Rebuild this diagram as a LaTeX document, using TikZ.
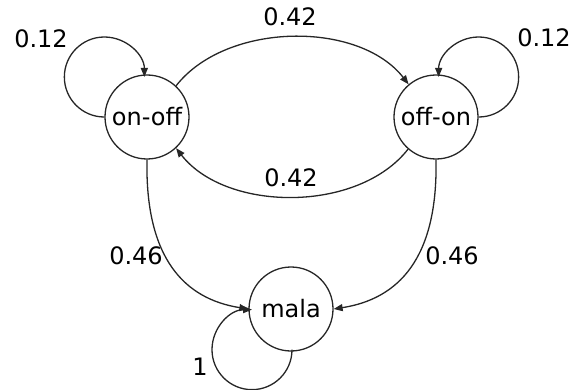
\documentclass[tikz,border=0pt]{standalone}
\usepackage{fontspec}
\setmainfont{DejaVu Sans}
\usetikzlibrary{arrows.meta}
\begin{document}
\begin{tikzpicture}[x=1pt,y=1pt,
  state/.style={circle,draw=black!85,line width=1.3pt,minimum size=84pt,inner sep=0pt,
    font=\fontsize{24}{28}\selectfont},
  trans/.style={draw=black!85,line width=1.3pt,-{Triangle[length=9pt,width=7pt]}},
  lbl/.style={font=\fontsize{24}{28}\selectfont,inner sep=0pt}]
\useasboundingbox (0,0) rectangle (573,389);

% states
\node[state] (on)   at (147,272) {on-off};
\node[state] (off)  at (436,272) {off-on};
\node[state] (mala) at (291,80)  {mala};

% self loops
\draw[trans] (on.west) arc[start angle=270,delta angle=-270,radius=40];
\draw[trans] (off.east) arc[start angle=270,delta angle=270,radius=40];
\draw[trans] (mala.south) ++(1,2) arc[start angle=0,delta angle=-270,radius=40];

% transitions between states
\draw[trans] (on.47) .. controls +(50,64) and +(-50,64) .. (off.130);
\draw[trans] (off.229) .. controls +(-50,-64) and +(50,-64) .. (on.313);
\draw[trans] (on.south) .. controls (145,130) and (185,90) .. (mala.west);
\draw[trans] (off.south) .. controls (438,130) and (398,90) .. (mala.east);

% probabilities
\node[lbl] (l1) at (41,350)  {0.12};
\node[lbl] (l2) at (544,351) {0.12};
\node[lbl] (l3) at (290,372) {0.42};
\node[lbl] (l4) at (291,211) {0.42};
\node[lbl] (l5) at (136,133) {0.46};
\node[lbl] (l6) at (452,133) {0.46};
\node[lbl] (l7) at (200,22)  {1};
\end{tikzpicture}
\end{document}
